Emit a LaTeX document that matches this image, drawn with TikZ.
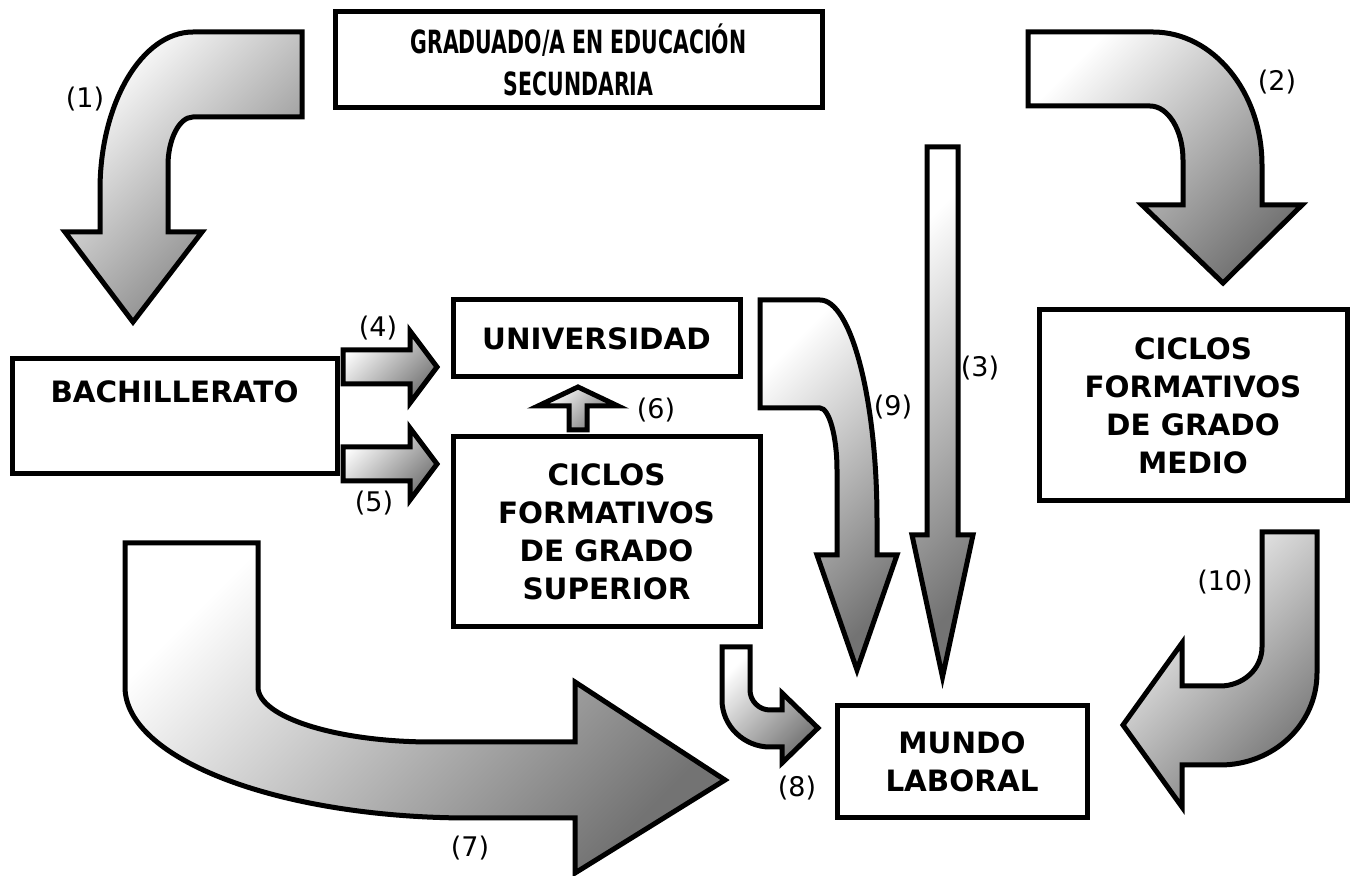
\documentclass[tikz,border=0pt]{standalone}
\usepackage{fontspec}
\setmainfont{DejaVu Sans}
\tikzset{
  box/.style={draw, line width=2.5pt, align=center, inner sep=0pt,
    font=\fontsize{14.7}{19}\selectfont\bfseries},
  blockarrow/.style={draw, line width=2.5pt, line join=miter,
    top color=white, bottom color=black!55, shading angle=45},
  num/.style={font=\fontsize{13.5}{16}\selectfont}
}
\newcommand{\narrow}[1]{\scalebox{0.64}[1]{#1}}
\begin{document}
\begin{tikzpicture}[x=0.5pt, y=-0.5pt]
  \useasboundingbox (0,0) rectangle (1356,876);
  % the boxes
  \node[box, minimum width=243.5pt, minimum height=48pt,
    font=\fontsize{16}{21}\selectfont\bfseries] (grad) at (578.5,60)
    {\narrow{GRADUADO/A EN EDUCACIÓN}\\\narrow{SECUNDARIA}};
  \node[box, minimum width=162.5pt, minimum height=57.5pt] (bach) at (174.5,416.5)
    {BACHILLERATO\\[6pt]~};
  \node[box, minimum width=143.5pt, minimum height=38.5pt] (univ) at (596.5,338.5)
    {UNIVERSIDAD};
  \node[box, minimum width=153.5pt, minimum height=95pt] (cfgs) at (606.5,532)
    {CICLOS\\FORMATIVOS\\DE GRADO\\SUPERIOR};
  \node[box, minimum width=154pt, minimum height=95.5pt] (cfgm) at (1193,405.5)
    {CICLOS\\FORMATIVOS\\DE GRADO\\MEDIO};
  \node[box, minimum width=125pt, minimum height=56pt] (mundo) at (962,762)
    {MUNDO\\LABORAL};
  % the arrows
  \draw[blockarrow] (302,32) -- (193,32) .. controls (142,32) and (100,103) .. (100,190)
    -- (100,232) -- (65,232) -- (133,322) -- (202,232) -- (168,232) -- (168,165)
    .. controls (168,140) and (179,117) .. (193,117) -- (302,117) -- cycle;
  \draw[blockarrow] (1028,32) -- (1153,32) .. controls (1213,32) and (1262,92) .. (1262,165)
    -- (1262,205) -- (1302,205) -- (1223,283) -- (1142,205) -- (1183,205) -- (1183,160)
    .. controls (1183,130) and (1168,106) .. (1150,106) -- (1028,106) -- cycle;
  \draw[blockarrow] (927,147) -- (958,147) -- (958,535) -- (973,535) -- (942.5,677)
    -- (912,535) -- (927,535) -- cycle;
  \draw[blockarrow] (343,350) -- (410,350) -- (410,331) -- (437,367) -- (410,403)
    -- (410,384) -- (343,384) -- cycle;
  \draw[blockarrow] (343,447) -- (410,447) -- (410,428) -- (437,464) -- (410,500)
    -- (410,481) -- (343,481) -- cycle;
  \draw[blockarrow] (569,430) -- (569,406) -- (538,406) -- (578,387) -- (618,406)
    -- (587,406) -- (587,430) -- cycle;
  \draw[blockarrow] (125,543) -- (258,543) -- (258,687) .. controls (258,717) and (336,742) .. (432,742)
    -- (575,742) -- (575,682) -- (725,780) -- (575,873) -- (575,818) -- (470,818)
    .. controls (279,818) and (125,759) .. (125,687) -- cycle;
  \draw[blockarrow] (722,647) -- (750,647) -- (750,690) .. controls (750,701) and (759,710) .. (770,710)
    -- (782,710) -- (782,693) -- (818,728) -- (782,763) -- (782,747) -- (770,747)
    .. controls (744,747) and (722,726) .. (722,700) -- cycle;
  \draw[blockarrow] (760,300) -- (820,300) .. controls (851,300) and (877,399) .. (877,520)
    -- (877,555) -- (897,555) -- (857,670) -- (817,555) -- (837,555) -- (837,470)
    .. controls (837,436) and (829,408) .. (820,408) -- (760,408) -- cycle;
  \draw[blockarrow] (1262,532) -- (1317,532) -- (1317,673) .. controls (1317,724) and (1274,765) .. (1220,765)
    -- (1182,765) -- (1182,807) -- (1123,725) -- (1182,643) -- (1182,686) -- (1220,686)
    .. controls (1243,686) and (1262,669) .. (1262,647) -- cycle;
  % the numbers
  \node[num] (n1) at (85,99) {(1)};
  \node[num] (n2) at (1277,82) {(2)};
  \node[num] (n3) at (980,368) {(3)};
  \node[num] (n4) at (378,328) {(4)};
  \node[num] (n5) at (374,503) {(5)};
  \node[num] (n6) at (656,410) {(6)};
  \node[num] (n7) at (470,848) {(7)};
  \node[num] (n8) at (797,788) {(8)};
  \node[num] (n9) at (893,407) {(9)};
  \node[num] (n10) at (1225,582) {(10)};
\end{tikzpicture}
\end{document}
